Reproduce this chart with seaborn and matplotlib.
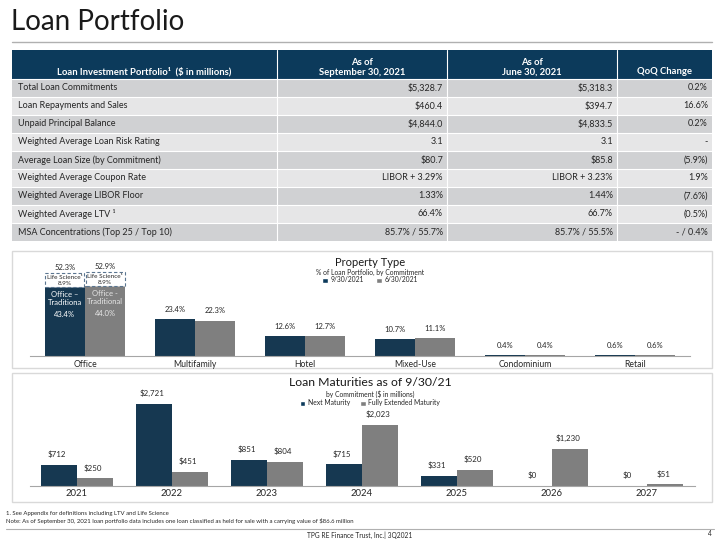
import numpy as np
import pandas as pd
import matplotlib
matplotlib.use("Agg")
import matplotlib.pyplot as plt
from matplotlib.patches import Rectangle, Patch
import seaborn as sns

# ---- data ----
row_labels = ["Total Loan Commitments", "Loan Repayments and Sales", "Unpaid Principal Balance",
              "Weighted Average Loan Risk Rating", "Average Loan Size (by Commitment)",
              "Weighted Average Coupon Rate", "Weighted Average LIBOR Floor",
              "Weighted Average LTV \u00b9", "MSA Concentrations (Top 25 / Top 10)"]
sep_values = ["$5,328.7", "$460.4", "$4,844.0", "3.1", "$80.7", "LIBOR + 3.29%", "1.33%",
              "66.4%", "85.7% / 55.7%"]
jun_values = ["$5,318.3", "$394.7", "$4,833.5", "3.1", "$85.8", "LIBOR + 3.23%", "1.44%",
              "66.7%", "85.7% / 55.5%"]
qoq_change = ["0.2%", "16.6%", "0.2%", "-", "(5.9%)", "1.9%", "(7.6%)", "(0.5%)", "- / 0.4%"]
header_labels = ["Loan Investment Portfolio\u00b9  ($ in millions)", "As of\nSeptember 30, 2021",
                 "As of\nJune 30, 2021", "QoQ Change"]

property_types = ["Office", "Multifamily", "Hotel", "Mixed-Use", "Condominium", "Retail"]
pct_sep = [43.4, 23.4, 12.6, 10.7, 0.4, 0.6]   # office = traditional only
pct_jun = [44.0, 22.3, 12.7, 11.1, 0.4, 0.6]
life_science = [8.9, 8.9]
office_total = [52.3, 52.9]
periods = ["9/30/2021", "6/30/2021"]

years = ["2021", "2022", "2023", "2024", "2025", "2026", "2027"]
next_maturity = [712, 2721, 851, 715, 331, 0, 0]
fully_extended = [250, 451, 804, 2023, 520, 1230, 51]
mat_series = ["Next Maturity", "Fully Extended Maturity"]

navy = "#0c3a5b"
gray = "#7f7f7f"
dark_row = "#d0d1d3"
light_row = "#e6e6e7"
txt = "#262626"

sns.set_style("white")
plt.rcParams['font.family'] = ['Lato', 'DejaVu Sans']

W, H = 720, 540
fig = plt.figure(figsize=(7.2, 5.4), dpi=100)

# background layer in pixel coords
bg = fig.add_axes([0, 0, 1, 1])
bg.set_xlim(0, W)
bg.set_ylim(H, 0)
bg.axis("off")

bg.text(11, 22, "Loan Portfolio", fontsize=20, color="#1a1a1a", va="center", ha="left")
bg.plot([12, 712], [42, 42], color="#b0b0b0", lw=1)

# table
col_edges = [12, 277, 447, 617, 712]
bg.add_patch(Rectangle((12, 50), 700, 29, facecolor=navy, edgecolor="none"))
for i in range(1, 4):
    bg.plot([col_edges[i], col_edges[i]], [50, 79], color="white", lw=0.8)
bg.text((col_edges[0] + col_edges[1]) / 2, 72, header_labels[0], color="white", fontsize=6.8,
        ha="center", va="center", fontweight="bold")
for i in range(1, 4):
    bg.text((col_edges[i] + col_edges[i + 1]) / 2, 77 if i < 3 else 72, header_labels[i],
            color="white", fontsize=6.8, ha="center", va="bottom" if i < 3 else "center",
            fontweight="bold", linespacing=1.15)

row_h = 18
top = 79
fs_row = 6.5
for r, lab in enumerate(row_labels):
    y0 = top + r * row_h
    fc = dark_row if r % 2 == 0 else light_row
    bg.add_patch(Rectangle((12, y0), 700, row_h, facecolor=fc, edgecolor="none"))
    bg.plot([12, 712], [y0, y0], color="white", lw=0.8)
    for i in range(1, 4):
        bg.plot([col_edges[i], col_edges[i]], [y0, y0 + row_h], color="white", lw=0.8)
    yc = y0 + row_h / 2
    bg.text(18, yc, lab, fontsize=fs_row, color=txt, va="center", ha="left")
    bg.text(col_edges[2] - 4, yc, sep_values[r], fontsize=fs_row, color=txt, va="center", ha="right")
    bg.text(col_edges[3] - 4, yc, jun_values[r], fontsize=fs_row, color=txt, va="center", ha="right")
    bg.text(col_edges[4] - 4, yc, qoq_change[r], fontsize=fs_row, color=txt, va="center", ha="right")

# chart frames
bg.add_patch(Rectangle((12, 251), 700, 117, facecolor="white", edgecolor="#d9d9d9", lw=1))
bg.add_patch(Rectangle((12, 373), 700, 129, facecolor="white", edgecolor="#d9d9d9", lw=1))

# footnotes / footer
bg.text(6, 513, "1. See Appendix for definitions including LTV and Life Science", fontsize=4.3,
        color=txt, va="center")
bg.text(6, 521, "Note: As of September 30, 2021 loan portfolio data includes one loan classified as held "
        "for sale with a carrying value of $86.6 million", fontsize=4.3, color=txt, va="center")
bg.plot([6, 714], [529, 529], color="#b0b0b0", lw=0.8)
bg.text(360, 535, "TPG RE Finance Trust, Inc.| 3Q2021", fontsize=4.8, color=txt, ha="center", va="center")
bg.text(712, 534, "4", fontsize=4.8, color=txt, ha="right", va="center")


def fig_rect(x0, y_top, x1, y_bot):
    return [x0 / W, 1 - y_bot / H, (x1 - x0) / W, (y_bot - y_top) / H]


# ---- property type chart ----
ax1 = fig.add_axes(fig_rect(30, 262, 690, 356))
df1 = pd.DataFrame({
    "type": property_types * 2,
    "period": [periods[0]] * len(property_types) + [periods[1]] * len(property_types),
    "pct": pct_sep + pct_jun,
})
sns.barplot(data=df1, x="type", y="pct", hue="period", hue_order=periods, palette=[navy, gray],
            width=0.73, gap=0, edgecolor="none", legend=False, ax=ax1)
ax1.set_ylim(0, 59.5)
ax1.set_xlim(-0.5, len(property_types) - 0.5)
ax1.set_xlabel("")
ax1.set_ylabel("")
ax1.set_yticks([])
ax1.tick_params(axis="x", length=0, labelsize=6.2, pad=3, labelcolor=txt)
for s in ["top", "left", "right"]:
    ax1.spines[s].set_visible(False)
ax1.spines["bottom"].set_color("#a6a6a6")
ax1.patch.set_alpha(0)

for k, cont in enumerate(list(ax1.containers)[:2]):
    vals = pct_sep if k == 0 else pct_jun
    for j, bar in enumerate(cont):
        cx = bar.get_x() + bar.get_width() / 2
        h = bar.get_height()
        if j == 0:
            # life science stacked on top
            ax1.bar(cx, life_science[k], bottom=h, width=bar.get_width() * 0.97, facecolor="white",
                    edgecolor="#5a7590", linestyle=(0, (3, 2)), lw=0.8)
            ax1.text(cx, h + life_science[k] / 2, "Life Science\u00b9\n%.1f%%" % life_science[k],
                     ha="center", va="center", fontsize=4.6, color=txt, linespacing=1.3)
            ax1.text(cx, h + life_science[k] + 1.5, "%.1f%%" % office_total[k], ha="center",
                     va="bottom", fontsize=5.5, color=txt)
            name = "Office \u2013\nTraditiona" if k == 0 else "Office -\nTraditional"
            ax1.text(cx, h - 2, name, ha="center", va="top", fontsize=5.5,
                     color="white" if k == 0 else "#e6e6e6", linespacing=1.2)
            ax1.text(cx, h - 15, "%.1f%%" % vals[j], ha="center", va="top", fontsize=5.5,
                     color="white" if k == 0 else "#e6e6e6")
        else:
            ax1.text(cx, h + 4, "%.1f%%" % vals[j], ha="center", va="bottom", fontsize=5.5, color=txt)

bg.text(370, 262, "Property Type", fontsize=8, color="#1a1a1a", ha="center", va="center")
bg.text(370, 272, "% of Loan Portfolio, by Commitment", fontsize=4.9, color=txt, ha="center", va="center")
fig.legend(handles=[Patch(facecolor=navy, label=periods[0]), Patch(facecolor=gray, label=periods[1])],
           loc="center", bbox_to_anchor=(370 / W, 1 - 280 / H), ncol=2, frameon=False, fontsize=4.9,
           handlelength=0.8, handleheight=0.8, handletextpad=0.4, columnspacing=1.8, borderpad=0)

# ---- loan maturities chart ----
ax2 = fig.add_axes(fig_rect(29.5, 396, 694.5, 486))
df2 = pd.DataFrame({
    "year": years * 2,
    "series": [mat_series[0]] * len(years) + [mat_series[1]] * len(years),
    "amt": next_maturity + fully_extended,
})
sns.barplot(data=df2, x="year", y="amt", hue="series", hue_order=mat_series, palette=[navy, gray],
            width=0.76, gap=0, edgecolor="none", legend=False, ax=ax2)
ax2.set_ylim(0, 2721 * 90 / 82)
ax2.set_xlim(-0.5, len(years) - 0.5)
ax2.set_xlabel("")
ax2.set_ylabel("")
ax2.set_yticks([])
ax2.tick_params(axis="x", length=0, labelsize=6.8, pad=2, labelcolor=txt)
for s in ["top", "left", "right"]:
    ax2.spines[s].set_visible(False)
ax2.spines["bottom"].set_color("#a6a6a6")
ax2.patch.set_alpha(0)

for k, cont in enumerate(list(ax2.containers)[:2]):
    vals = next_maturity if k == 0 else fully_extended
    for j, bar in enumerate(cont):
        cx = bar.get_x() + bar.get_width() / 2
        ax2.text(cx - 0.02, bar.get_height() + 230, "${:,}".format(vals[j]), ha="center", va="bottom",
                 fontsize=5.7, color=txt)

bg.text(370, 383, "Loan Maturities as of 9/30/21", fontsize=8.8, color="#1a1a1a", ha="center", va="center")
bg.text(370, 394, "by Commitment ($ in millions)", fontsize=4.9, color=txt, ha="center", va="center")
fig.legend(handles=[Patch(facecolor=navy, label=mat_series[0]), Patch(facecolor=gray, label=mat_series[1])],
           loc="center", bbox_to_anchor=(370 / W, 1 - 403 / H), ncol=2, frameon=False, fontsize=4.9,
           handlelength=0.8, handleheight=0.8, handletextpad=0.4, columnspacing=1.5, borderpad=0)

fig.savefig("out.png", dpi=100)
